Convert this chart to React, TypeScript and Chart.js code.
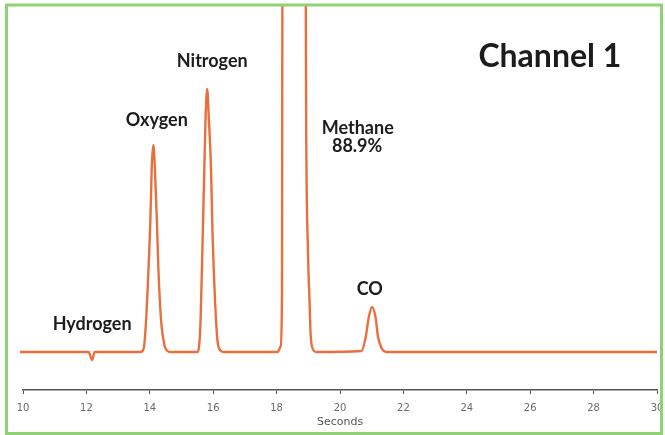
import { useEffect, useRef } from "react";
import { Chart, registerables } from "chart.js";

Chart.register(...registerables);

// Chromatogram trace: retention time (s) and detector signal (arbitrary units)
const traceTime = [
  9.9, 12.07, 12.18, 12.26,
  13.72, 13.81, 13.88, 13.96, 14.02, 14.06, 14.11, 14.16, 14.22, 14.27, 14.35, 14.46, 14.56, 14.63,
  15.51, 15.6, 15.67, 15.72, 15.76, 15.81, 15.86, 15.93, 15.98, 16.06, 16.14, 16.25, 16.33,
  18.03, 18.13, 18.17, 18.18, 18.21, 18.54, 18.9, 18.93, 18.99, 19.04, 19.07, 19.12, 19.26,
  20.68, 20.81, 20.91, 21.01, 21.12, 21.2, 21.31, 21.46,
  30,
];
const traceSignal = [
  0, 0, -8, 0,
  0, 4, 30, 84, 134, 184, 207, 184, 134, 84, 34, 7, 1, 0,
  0, 30, 117, 184, 235, 263, 235, 184, 117, 50, 10, 1, 0,
  0, 6, 60, 300, 800, 2400, 600, 250, 100, 50, 20, 5, 0,
  1, 15, 35, 45, 35, 15, 4, 0,
  0,
];

// Axis
const xMin = 10;
const xMax = 30;
const xStep = 2;
const yMin = -38;
const yMax = 347;
const xTitle = "Seconds";
const chartTitle = "Channel 1";

// Peak annotations
const peakNames = ["Hydrogen", "Oxygen", "Nitrogen", "Methane", "88.9%", "CO"];
const peakLabelTime = [12.18, 14.22, 15.97, 20.56, 20.54, 20.94];
const peakLabelSignal = [22, 226, 285, 218, 200, 57];
const titleTime = 26.62;
const titleSignal = 285;

const decorPlugin = {
  id: "decor",
  beforeDraw(chart: any) {
    const ctx = chart.ctx;
    ctx.save();
    ctx.fillStyle = "#ffffff";
    ctx.fillRect(0, 0, chart.width, chart.height);
    ctx.restore();
  },
  afterDraw(chart: any) {
    const ctx = chart.ctx;
    const xs = chart.scales.x;
    const ys = chart.scales.y;
    ctx.save();
    ctx.fillStyle = "#1c1c1c";
    ctx.textAlign = "center";
    ctx.textBaseline = "alphabetic";
    ctx.font = "bold 18px Lato, 'Noto Sans', sans-serif";
    peakNames.forEach((name, i) => {
      ctx.fillText(name, xs.getPixelForValue(peakLabelTime[i]), ys.getPixelForValue(peakLabelSignal[i]));
    });
    ctx.font = "bold 32px Lato, 'Noto Sans', sans-serif";
    ctx.fillText(chartTitle, xs.getPixelForValue(titleTime), ys.getPixelForValue(titleSignal));
    ctx.strokeStyle = "#90d273";
    ctx.lineWidth = 3;
    ctx.strokeRect(6.5, 5, 655, 428.5);
    ctx.restore();
  },
};

export default function App() {
  const ref = useRef<HTMLCanvasElement>(null);
  useEffect(() => {
    if (!ref.current) return;
    const chart = new Chart(ref.current, {
      type: "line",
      data: {
        datasets: [
          {
            data: traceTime.map((t, i) => ({ x: t, y: traceSignal[i] })),
            borderColor: "#e8703f",
            borderWidth: 2.4,
            pointRadius: 0,
            cubicInterpolationMode: "monotone",
            fill: false,
            clip: { left: 4, top: 0, right: 0, bottom: 10 } as any,
          },
        ],
      },
      options: {
        animation: false,
        responsive: false,
        layout: { padding: { left: 23, right: 8, top: 5, bottom: 0 } },
        plugins: { legend: { display: false }, tooltip: { enabled: false } },
        scales: {
          x: {
            type: "linear",
            min: xMin,
            max: xMax,
            ticks: {
              stepSize: xStep,
              color: "#6a6a6a",
              padding: 8,
              maxRotation: 0,
              font: { size: 10, family: "'DejaVu Sans', sans-serif" },
            },
            grid: { drawOnChartArea: false, tickLength: 4, color: "#555" },
            border: { display: true, color: "#555", width: 1.5 },
            title: {
              display: true,
              text: xTitle,
              color: "#555",
              padding: { top: 0, bottom: 6 },
              font: { size: 11, family: "'DejaVu Sans', sans-serif" },
            },
            afterFit(scale: any) {
              scale.height = 45;
              scale.paddingLeft = 0;
              scale.paddingRight = 0;
            },
          },
          y: { display: false, min: yMin, max: yMax },
        },
      },
      plugins: [decorPlugin],
    });
    return () => chart.destroy();
  }, []);
  return (
    <div style={{ position: "fixed", left: 0, top: 0, width: 665, height: 435 }}>
      <canvas ref={ref} width={665} height={435} />
    </div>
  );
}
